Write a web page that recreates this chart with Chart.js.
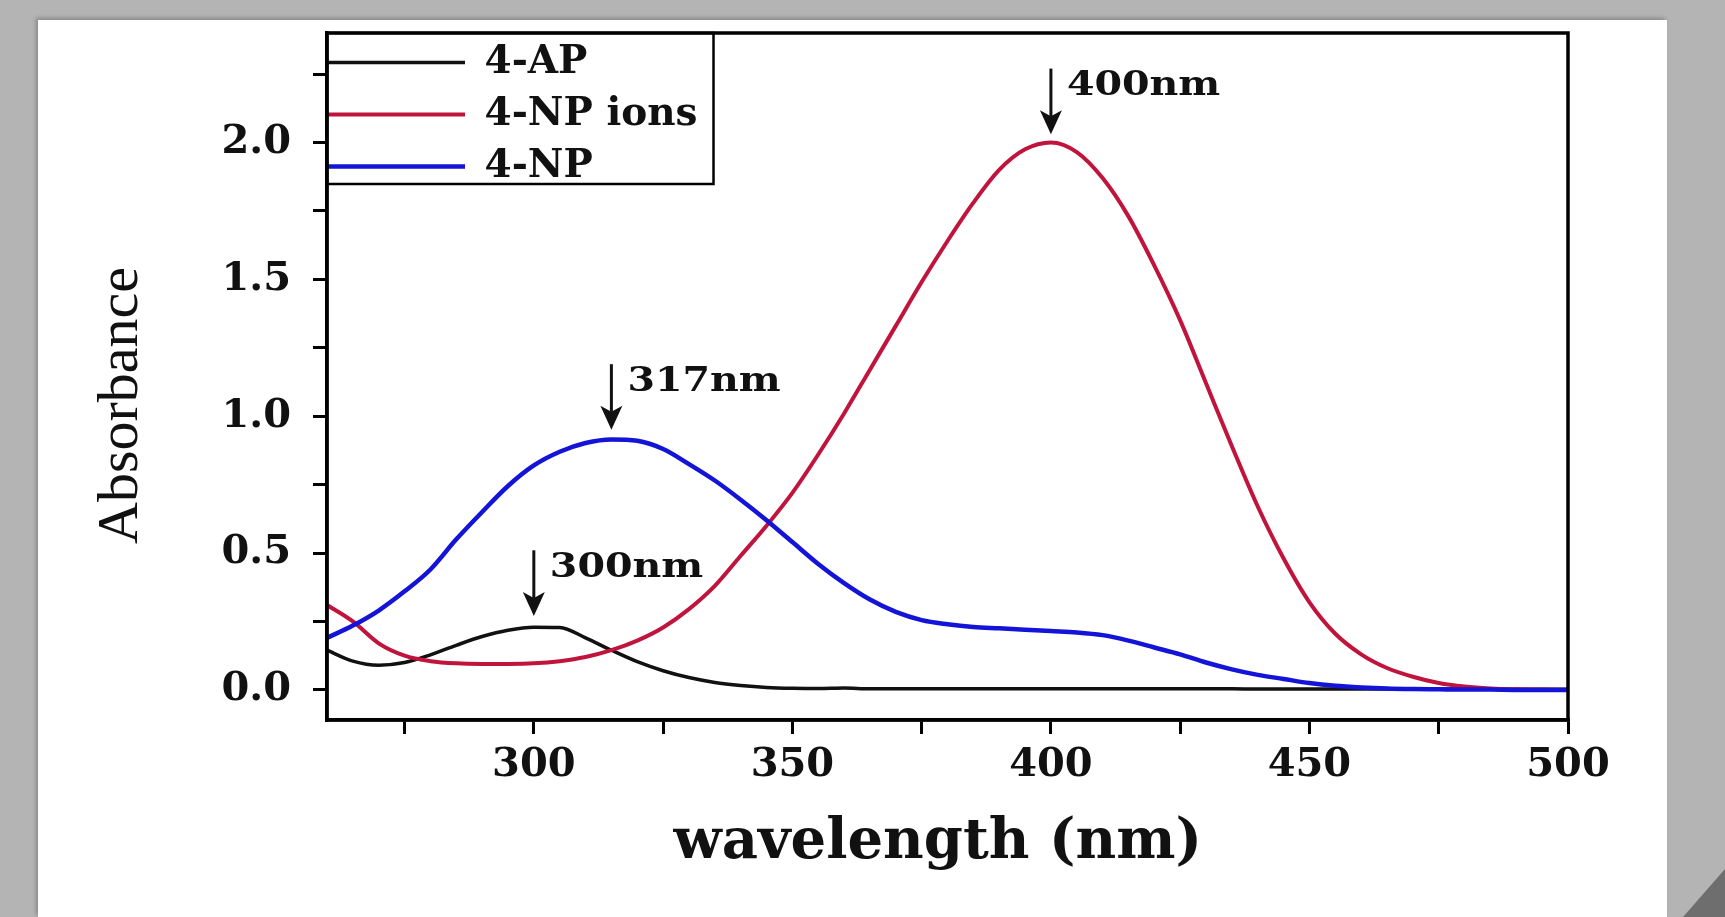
<!DOCTYPE html>
<html><head><meta charset="utf-8">
<script src="https://cdn.jsdelivr.net/npm/chart.js@4.4.1/dist/chart.umd.min.js"></script>
<style>
html,body{margin:0;padding:0;width:1725px;height:917px;overflow:hidden;background:#b4b4b4;}
#panel{position:absolute;left:38px;top:20px;width:1629px;height:897px;background:#fff;box-shadow:-2px -2px 4px rgba(0,0,0,0.25);}
#curl{position:absolute;left:1683px;top:869px;width:42px;height:48px;background:#6e6e6e;clip-path:polygon(100% 0,100% 100%,0 100%);}
#wrap{position:absolute;left:0;top:0;width:1725px;height:917px;}
</style></head><body>
<div id="panel"></div><div id="curl"></div>
<div id="wrap"><canvas id="c" width="1725" height="917"></canvas></div>
<script>
// wavelength (nm), 260..500 step 5
const wavelength = [260,265,270,275,280,285,290,295,300,305,310,315,320,325,330,335,340,345,350,355,360,365,370,375,380,385,390,395,400,405,410,415,420,425,430,435,440,445,450,455,460,465,470,475,480,485,490,495,500];
const ap4 = [0.145,0.105,0.09,0.10,0.128,0.163,0.195,0.218,0.229,0.228,0.19,0.145,0.103,0.07,0.045,0.027,0.016,0.009,0.006,0.005,0.007,0.004,0.004,0.004,0.004,0.004,0.004,0.004,0.004,0.004,0.004,0.004,0.004,0.004,0.004,0.004,0.003,0.003,0.003,0.003,0.003,0.003,0.003,0.003,0.003,0.003,0.002,0.002,0.002];
const npIons = [0.31,0.25,0.17,0.125,0.105,0.097,0.095,0.095,0.097,0.105,0.12,0.145,0.18,0.228,0.295,0.38,0.49,0.6,0.72,0.86,1.01,1.17,1.33,1.49,1.64,1.78,1.9,1.975,2.0,1.965,1.87,1.73,1.55,1.35,1.12,0.89,0.67,0.48,0.32,0.205,0.13,0.08,0.048,0.025,0.012,0.005,0.002,0.001,0.0];
const np4 = [0.19,0.235,0.29,0.36,0.44,0.55,0.65,0.745,0.82,0.87,0.902,0.915,0.91,0.88,0.825,0.765,0.695,0.62,0.54,0.46,0.39,0.33,0.285,0.255,0.24,0.23,0.225,0.22,0.215,0.21,0.2,0.18,0.155,0.13,0.1,0.075,0.055,0.04,0.025,0.015,0.009,0.005,0.003,0.002,0.001,0.001,0.0,0.0,0.0];
const seriesNames = ['4-AP','4-NP ions','4-NP'];
const xTickValues = [275,300,325,350,375,400,425,450,475,500];
const yTickValues = [0,0.25,0.5,0.75,1.0,1.25,1.5,1.75,2.0,2.25];
// peak annotations
const peakLabels = ['400nm','317nm','300nm'];
const peakX = [400,315,300];
const arrowTop = [2.27,1.19,0.51];
const arrowTip = [2.03,0.95,0.27];

const pts = arr => wavelength.map((w,i)=>({x:w,y:arr[i]}));
const serifBold = (size)=>({family:'DejaVu Serif', weight:'bold', size});

const decor = {
  id:'decor',
  beforeDraw(chart){
    const a = chart.chartArea, lg = chart.legend;
    if (lg) { lg.left = a.left - 13; lg.top = a.top - 3; }
  },
  afterDraw(chart){
    const {ctx, chartArea:a, scales:{x,y}} = chart;
    ctx.save();
    ctx.strokeStyle = '#000'; ctx.lineWidth = 3.5;
    ctx.strokeRect(a.left, a.top, a.right-a.left, a.bottom-a.top);
    // legend frame
    const lg = chart.legend;
    if (lg && lg.legendHitBoxes) {
      let maxW = 0;
      lg.legendHitBoxes.forEach(h=>{ maxW = Math.max(maxW, h.width); });
      const bottom = a.top + 151;
      ctx.lineWidth = 2.5;
      ctx.strokeRect(a.left, a.top, maxW + 1 + 15, bottom - a.top);
    }
    // arrows + labels
    ctx.fillStyle = '#111'; ctx.strokeStyle = '#111';
    for (let i=0;i<peakLabels.length;i++){
      const px = x.getPixelForValue(peakX[i]);
      const top = y.getPixelForValue(arrowTop[i]);
      const tip = y.getPixelForValue(arrowTip[i]);
      ctx.lineWidth = 3;
      ctx.beginPath(); ctx.moveTo(px, top); ctx.lineTo(px, tip-18); ctx.stroke();
      ctx.beginPath(); ctx.moveTo(px-11, tip-24); ctx.lineTo(px, tip-18); ctx.lineTo(px+11, tip-24); ctx.lineTo(px, tip); ctx.closePath(); ctx.fill();
      ctx.save();
      ctx.font = 'bold 33px "DejaVu Serif"'; ctx.textBaseline = 'middle'; ctx.textAlign = 'left';
      ctx.translate(px+16, top+18); ctx.scale(1.2,1);
      ctx.fillText(peakLabels[i], 0, 0);
      ctx.restore();
    }
    ctx.restore();
  }
};

new Chart(document.getElementById('c'), {
  type:'line',
  data:{ datasets:[
    {label:seriesNames[0], data:pts(ap4), borderColor:'#111', borderWidth:3.5, pointRadius:0, cubicInterpolationMode:'monotone', order:2},
    {label:seriesNames[1], data:pts(npIons), borderColor:'#c0143c', borderWidth:4, pointRadius:0, cubicInterpolationMode:'monotone', order:1},
    {label:seriesNames[2], data:pts(np4), borderColor:'#1414d8', borderWidth:4.5, pointRadius:0, cubicInterpolationMode:'monotone', order:0}
  ]},
  options:{
    responsive:false, animation:false,
    layout:{padding:{top:33,right:157,left:0,bottom:0}},
    plugins:{
      legend:{position:'chartArea', align:'start',
        labels:{usePointStyle:true, pointStyle:'line', pointStyleWidth:138, font:serifBold(39), color:'#111', padding:13,
          sort:(a,b)=>a.datasetIndex-b.datasetIndex}},
      tooltip:{enabled:false}
    },
    scales:{
      x:{type:'linear', min:260, max:500,
        afterBuildTicks:s=>{ s.ticks = xTickValues.map(v=>({value:v})); },
        afterFit:s=>{ s.height = 197; s.paddingLeft = 0; s.paddingRight = 0; },
        grid:{drawOnChartArea:false, drawTicks:true, tickLength:14, color:'#000', lineWidth:3},
        border:{display:true, color:'#000', width:3.5},
        ticks:{callback:v=>(v%50===0?String(v):''), font:serifBold(40), color:'#111', padding:8, maxRotation:0, autoSkip:false},
        title:{display:true, text:'wavelength (nm) ', font:serifBold(56), color:'#111', padding:{top:0,bottom:40}}
      },
      y:{type:'linear', min:-0.11, max:2.4,
        afterBuildTicks:s=>{ s.ticks = yTickValues.map(v=>({value:v})); },
        afterFit:s=>{ s.width = 327; s.paddingTop = 0; s.paddingBottom = 0; },
        grid:{drawOnChartArea:false, drawTicks:true, tickLength:14, color:'#000', lineWidth:3},
        border:{display:true, color:'#000', width:3.5},
        ticks:{callback:v=>(Math.round(v*100)%50===0?v.toFixed(1):''), font:serifBold(40), color:'#111', padding:22, autoSkip:false},
        title:{display:true, text:'Absorbance    ', font:{family:'Liberation Serif', size:58}, color:'#111', padding:{top:87,bottom:0}}
      }
    }
  },
  plugins:[decor]
});
</script>
</body></html>
